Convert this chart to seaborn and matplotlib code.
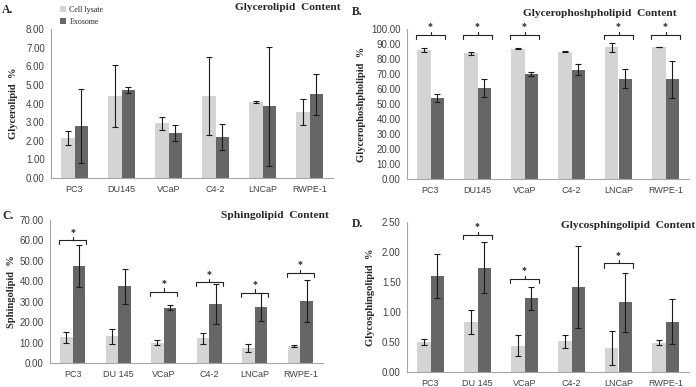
import numpy as np
import pandas as pd
import matplotlib
matplotlib.use("Agg")
import matplotlib.pyplot as plt
import seaborn as sns
from matplotlib.patches import Patch

categories = ["PC3", "DU 145", "VCaP", "C4-2", "LNCaP", "RWPE-1"]
categories_top = ["PC3", "DU145", "VCaP", "C4-2", "LNCaP", "RWPE-1"]
samples = ["Cell lysate", "Exosome"]

# Panel A: Glycerolipid
gl_cell = [2.15, 4.42, 2.93, 4.42, 4.07, 3.55]
gl_cell_err = [0.40, 1.66, 0.37, 2.10, 0.05, 0.70]
gl_exo = [2.78, 4.70, 2.42, 2.22, 3.85, 4.50]
gl_exo_err = [2.00, 0.16, 0.44, 0.70, 3.20, 1.10]

# Panel B: Glycerophospholipid
gp_cell = [86.0, 84.0, 87.0, 85.0, 88.0, 88.0]
gp_cell_err = [1.5, 1.0, 0.3, 0.5, 3.0, 0.2]
gp_exo = [54.0, 61.0, 70.0, 73.0, 67.0, 66.5]
gp_exo_err = [2.5, 6.0, 1.5, 3.5, 6.5, 12.5]
gp_sig = [0, 1, 2, 4, 5]
gp_sig_h = [96.0, 96.0, 96.0, 96.0, 96.0]

# Panel C: Sphingolipid
sp_cell = [12.5, 13.0, 10.0, 12.0, 7.3, 8.3]
sp_cell_err = [2.5, 3.8, 1.3, 2.5, 2.0, 0.6]
sp_exo = [47.5, 37.5, 27.0, 28.8, 27.5, 30.5]
sp_exo_err = [10.5, 8.5, 1.3, 9.7, 7.0, 10.3]
sp_sig = [0, 2, 3, 4, 5]
sp_sig_h = [60.0, 35.0, 39.5, 34.5, 44.0]

# Panel D: Glycosphingolipid
gs_cell = [0.50, 0.83, 0.44, 0.51, 0.40, 0.49]
gs_cell_err = [0.05, 0.20, 0.18, 0.11, 0.28, 0.04]
gs_exo = [1.60, 1.74, 1.23, 1.42, 1.16, 0.84]
gs_exo_err = [0.37, 0.42, 0.19, 0.68, 0.49, 0.37]
gs_sig = [1, 2, 4]
gs_sig_h = [2.28, 1.55, 1.81]

LIGHT = "#d4d4d4"
DARK = "#666666"
AXC = "#a6a6a6"
SERIF = "Liberation Serif"
SANS = "Liberation Sans"

W, H = 696, 387
sns.set_style("white")
fig = plt.figure(figsize=(W / 100, H / 100), dpi=100)


def px_axes(x0, y0, x1, y1):
    return fig.add_axes([x0 / W, 1 - y1 / H, (x1 - x0) / W, (y1 - y0) / H])


def panel(ax, cats, cell, cerr, exo, eerr, ymax, ystep, ylabel, title, sig, sig_h,
          title_xy, letter, letter_xy, ylab_x):
    df = pd.DataFrame({
        "cat": cats * 2,
        "sample": [samples[0]] * len(cats) + [samples[1]] * len(cats),
        "val": list(cell) + list(exo),
    })
    sns.barplot(data=df, x="cat", y="val", hue="sample", order=cats, hue_order=samples,
                palette=[LIGHT, DARK], width=0.56, gap=0, errorbar=None, ax=ax,
                legend=False, saturation=1, linewidth=0)
    for cont, errs in zip(ax.containers, [cerr, eerr]):
        xs = [b.get_x() + b.get_width() / 2 for b in cont]
        hs = [b.get_height() for b in cont]
        ax.errorbar(xs, hs, yerr=errs, fmt="none", ecolor="#1a1a1a", elinewidth=0.8,
                    capsize=2.3, capthick=0.8, zorder=5)
    ax.set_xlim(-0.5, len(cats) - 0.5)
    ax.set_ylim(0, ymax)
    ticks = np.arange(0, ymax + ystep / 2, ystep)
    ax.set_yticks(ticks)
    ax.set_yticklabels([f"{t:.2f}" for t in ticks], fontsize=7, family=SANS, color="#404040")
    ax.set_xticks(range(len(cats)))
    ax.set_xticklabels(cats, fontsize=6.5, family=SANS, color="#404040")
    ax.tick_params(length=0, pad=4.5)
    ax.tick_params(axis="x", pad=5)
    for s in ["top", "right"]:
        ax.spines[s].set_visible(False)
    for s in ["left", "bottom"]:
        ax.spines[s].set_color(AXC)
        ax.spines[s].set_linewidth(0.8)
    ax.set_xlabel("")
    ax.set_ylabel("")
    ax.grid(False)
    ax.set_facecolor("white")
    pos = ax.get_position()
    fig.text(ylab_x / W, (pos.y0 + pos.y1) / 2, ylabel,
             rotation=90, ha="center", va="center", fontsize=7.6, family=SERIF, weight="bold")
    fig.text(title_xy[0] / W, 1 - title_xy[1] / H, title, ha="right", va="center",
             fontsize=8.2, family=SERIF, weight="bold")
    fig.text(letter_xy[0] / W, 1 - letter_xy[1] / H, letter, ha="left", va="center",
             fontsize=8.4, family=SERIF, weight="bold")
    # significance brackets
    dy = ymax * 0.028
    for i, h in zip(sig, sig_h):
        xl, xr = i - 0.3, i + 0.3
        ax.plot([xl, xl, xr, xr], [h - dy, h, h, h - dy], color="#222222", lw=0.8,
                solid_joinstyle="round", clip_on=False)
        ax.plot([i, i], [h, h + dy * 0.8], color="#222222", lw=0.8, clip_on=False)
        ax.text(i, h + dy * 0.9, "*", ha="center", va="bottom", fontsize=7, family=SERIF,
                weight="bold", color="#222222")


axA = px_axes(51, 29, 333, 178)
panel(axA, categories_top, gl_cell, gl_cell_err, gl_exo, gl_exo_err, 8, 1,
      "Glycerolipid  %", "Glycerolipid  Content", [], [], (341, 8), "A.", (2, 10), 14)
handles = [Patch(facecolor=LIGHT, edgecolor="none"), Patch(facecolor=DARK, edgecolor="none")]
fig.legend(handles, samples, loc="upper left", bbox_to_anchor=(54 / W, 1 - 0 / H), frameon=False,
           prop={"family": SERIF, "size": 5.8}, handlelength=0.8, handleheight=0.8,
           handletextpad=0.4, labelspacing=0.55, borderpad=0.2)

axB = px_axes(407, 29, 689, 179)
panel(axB, categories_top, gp_cell, gp_cell_err, gp_exo, gp_exo_err, 100, 10,
      "Glycerophoshpholipid  %", "Glycerophoshpholipid  Content", gp_sig, gp_sig_h,
      (677, 13), "B.", (352, 12), 362)

axC = px_axes(50, 220, 323, 363)
panel(axC, categories, sp_cell, sp_cell_err, sp_exo, sp_exo_err, 70, 10,
      "Sphingolipid  %", "Sphingolipid  Content", sp_sig, sp_sig_h,
      (329, 216), "C.", (2, 216), 12)

axD = px_axes(407, 222, 689, 372)
panel(axD, categories, gs_cell, gs_cell_err, gs_exo, gs_exo_err, 2.5, 0.5,
      "Glycosphingolipid  %", "Glycosphingolipid  Content", gs_sig, gs_sig_h,
      (695, 225), "D.", (352, 224), 370)

fig.savefig("out.png", dpi=100, facecolor="white")
